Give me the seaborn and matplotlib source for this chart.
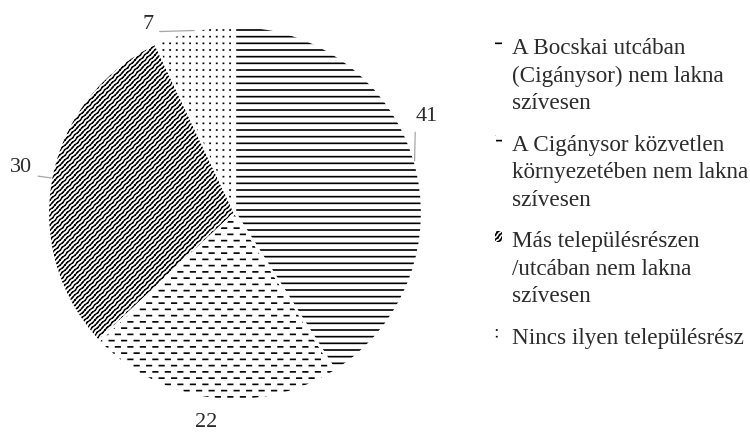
import warnings
import numpy as np
import matplotlib
matplotlib.use("Agg")
import matplotlib.pyplot as plt
import matplotlib.hatch as mhatch
from matplotlib.path import Path
import seaborn as sns

warnings.filterwarnings("ignore")

labels = [
    "A Bocskai utcában\n(Cigánysor) nem lakna\nszívesen",
    "A Cigánysor közvetlen\nkörnyezetében nem lakna\nszívesen",
    "Más településrészen\n/utcában nem lakna\nszívesen",
    "Nincs ilyen településrész",
]
values = [41, 22, 30, 7]
hatches = ["h", "d", "w", "p"]

# where excel left the data labels (pie radius units) and which got a leader line
label_pos = [(1.024, 0.515), (-0.154, -1.12), (-1.144, 0.242), (-0.465, 1.01)]
leader = [True, False, True, True]
leader_rel = [(0.0, 0.05), (0.5, 1.0), (1.0, 0.1), (1.0, 0.1)]


# --- custom hatch patterns (one hatch unit = 72 pt = 100 px here) ---
class HLines(mhatch.HatchPatternBase):
    n = 15

    def __init__(self, hatch, density):
        self.num_vertices = 2 * self.n if "h" in hatch else 0

    def set_vertices_and_codes(self, vertices, codes):
        y = (np.arange(self.n) + 0.5) / self.n
        vertices[0::2, 0] = 0.0
        vertices[0::2, 1] = y
        vertices[1::2, 0] = 1.0
        vertices[1::2, 1] = y
        codes[0::2] = Path.MOVETO
        codes[1::2] = Path.LINETO


class Dashes(mhatch.HatchPatternBase):
    rows, per_row, dash = 16, 8, 0.045

    def __init__(self, hatch, density):
        self.num_vertices = 2 * self.rows * (self.per_row + 1) if "d" in hatch else 0

    def set_vertices_and_codes(self, vertices, codes):
        period = 1.0 / self.per_row
        pts = []
        for r in range(self.rows):
            y = (r + 0.5) / self.rows
            shift = period / 2 if r % 2 else 0.0
            for k in range(-1, self.per_row):
                x0 = k * period + shift + period * 0.25
                pts += [(x0, y), (x0 + self.dash, y)]
        vertices[:] = pts
        codes[0::2] = Path.MOVETO
        codes[1::2] = Path.LINETO


class Waves(mhatch.HatchPatternBase):
    n_lines, n_waves, amp, segs = 20, 12, 0.004, 48

    def __init__(self, hatch, density):
        n = 2 * self.n_lines + 1
        self.num_vertices = 2 * n * self.segs if "w" in hatch else 0

    def set_vertices_and_codes(self, vertices, codes):
        x = np.linspace(-0.1, 1.1, self.segs + 1)
        pts = []
        for k in range(-self.n_lines, self.n_lines + 1):
            c = k / self.n_lines
            off = self.amp * np.sin(2 * np.pi * self.n_waves * (2 * x + c)) / np.sqrt(2)
            px = x + off
            py = x + c - off
            for i in range(self.segs):
                pts += [(px[i], py[i]), (px[i + 1], py[i + 1])]
        vertices[:] = pts
        codes[0::2] = Path.MOVETO
        codes[1::2] = Path.LINETO


class Dots(mhatch.HatchPatternBase):
    n = 15

    def __init__(self, hatch, density):
        self.num_vertices = 2 * self.n * self.n if "p" in hatch else 0

    def set_vertices_and_codes(self, vertices, codes):
        pts = []
        for i in range(self.n):
            for j in range(self.n):
                x = (i + 0.5) / self.n
                y = (j + 0.5) / self.n
                pts += [(x, y), (x + 0.002, y)]
        vertices[:] = pts
        codes[0::2] = Path.MOVETO
        codes[1::2] = Path.LINETO


mhatch._hatch_types.extend([HLines, Dashes, Waves, Dots])

sns.set_theme(style="white")
plt.rcParams["font.family"] = ["Liberation Serif", "DejaVu Serif"]
plt.rcParams["hatch.color"] = "black"
plt.rcParams["hatch.linewidth"] = 1.2

fig = plt.figure(figsize=(7.5, 4.34), dpi=100)
W, H = 750, 434
cx, cy, r = 235, 213, 187
ax = fig.add_axes([(cx - r) / W, (H - cy - r) / H, 2 * r / W, 2 * r / H])

wedges, _ = ax.pie(values, startangle=90, counterclock=False, hatch=hatches,
                   wedgeprops=dict(facecolor="white", edgecolor="black", linewidth=0))
# the diagonal pattern is finer than the others
if hasattr(wedges[2], "set_hatch_linewidth"):
    wedges[2].set_hatch_linewidth(1.0)
# thin white gaps between the slices
ax.pie(values, startangle=90, counterclock=False,
       wedgeprops=dict(fill=False, edgecolor="white", linewidth=1.6))
ax.set_xlim(-1, 1)
ax.set_ylim(-1, 1)
ax.axis("off")

for w, v, pos, show, rel in zip(wedges, values, label_pos, leader, leader_rel):
    ang = np.deg2rad((w.theta1 + w.theta2) / 2)
    edge = (np.cos(ang), np.sin(ang))
    arrow = dict(arrowstyle="-", color="#a6a6a6", lw=0.9, shrinkA=2, shrinkB=0,
                 relpos=rel) if show else None
    ax.annotate(str(v), xy=edge, xytext=pos, ha="center", va="center",
                fontsize=16, color="#2b2b2b", arrowprops=arrow,
                annotation_clip=False)

leg = fig.legend(wedges, labels, loc="upper left",
                 bbox_to_anchor=(495 / W, 1 - 38 / H), frameon=False,
                 fontsize=16.7, handlelength=0.3, handleheight=0.35,
                 handletextpad=0.42, labelspacing=0.88, borderpad=0,
                 borderaxespad=0)
for t in leg.get_texts():
    t.set_color("#2b2b2b")
    t.set_linespacing(1.41)
# excel puts the legend key next to the first line of each label
for col in leg._legend_handle_box.get_children():
    for item in col.get_children():
        item.align = "top"

fig.savefig("out.png", dpi=100)
